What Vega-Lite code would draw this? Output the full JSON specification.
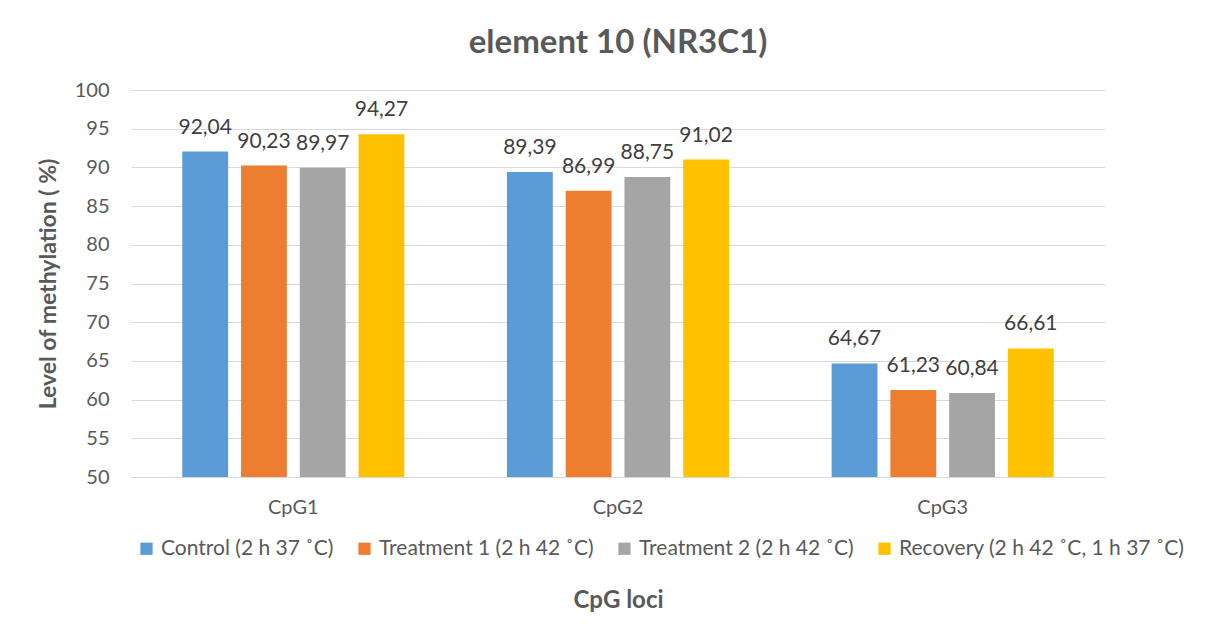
{
  "$schema": "https://vega.github.io/schema/vega-lite/v6.json",
  "width": 974,
  "height": 387,
  "autosize": {"type": "none"},
  "padding": {"left": 131, "top": 90, "right": 108, "bottom": 156},
  "background": "white",
  "title": {
    "text": "element 10 (NR3C1)",
    "font": "Lato",
    "fontSize": 33,
    "fontWeight": "bold",
    "color": "#595959",
    "anchor": "middle",
    "offset": 20
  },
  "config": {
    "font": "Lato",
    "view": {"stroke": null},
    "locale": {
      "number": {"decimal": ",", "thousands": ".", "grouping": [3], "currency": ["", " €"]}
    }
  },
  "data": {
    "values": [
      {"locus": "CpG1", "group": "Control (2 h 37 ˚C)", "value": 92.04},
      {"locus": "CpG1", "group": "Treatment 1 (2 h 42 ˚C)", "value": 90.23},
      {"locus": "CpG1", "group": "Treatment 2 (2 h 42 ˚C)", "value": 89.97},
      {"locus": "CpG1", "group": "Recovery (2 h 42 ˚C, 1 h 37 ˚C)", "value": 94.27},
      {"locus": "CpG2", "group": "Control (2 h 37 ˚C)", "value": 89.39},
      {"locus": "CpG2", "group": "Treatment 1 (2 h 42 ˚C)", "value": 86.99},
      {"locus": "CpG2", "group": "Treatment 2 (2 h 42 ˚C)", "value": 88.75},
      {"locus": "CpG2", "group": "Recovery (2 h 42 ˚C, 1 h 37 ˚C)", "value": 91.02},
      {"locus": "CpG3", "group": "Control (2 h 37 ˚C)", "value": 64.67},
      {"locus": "CpG3", "group": "Treatment 1 (2 h 42 ˚C)", "value": 61.23},
      {"locus": "CpG3", "group": "Treatment 2 (2 h 42 ˚C)", "value": 60.84},
      {"locus": "CpG3", "group": "Recovery (2 h 42 ˚C, 1 h 37 ˚C)", "value": 66.61}
    ]
  },
  "encoding": {
    "x": {
      "field": "locus",
      "type": "nominal",
      "scale": {"paddingInner": 0.316, "paddingOuter": 0.158},
      "axis": {
        "title": "CpG loci",
        "titleFontSize": 24,
        "titleFontWeight": "bold",
        "titleColor": "#595959",
        "titlePadding": 71,
        "labelAngle": 0,
        "labelFontSize": 20,
        "labelColor": "#595959",
        "labelPadding": 20,
        "ticks": false,
        "domainColor": "#d9d9d9",
        "domainWidth": 1
      }
    },
    "xOffset": {
      "field": "group",
      "type": "nominal",
      "sort": ["Control (2 h 37 ˚C)", "Treatment 1 (2 h 42 ˚C)", "Treatment 2 (2 h 42 ˚C)", "Recovery (2 h 42 ˚C, 1 h 37 ˚C)"],
      "scale": {"paddingInner": 0.22, "paddingOuter": 0}
    },
    "y": {
      "field": "value",
      "type": "quantitative",
      "scale": {"domain": [50, 100], "zero": false},
      "axis": {
        "title": "Level of methylation ( %)",
        "titleFontSize": 23,
        "titleFontWeight": "bold",
        "titleColor": "#595959",
        "titlePadding": 14,
        "values": [50, 55, 60, 65, 70, 75, 80, 85, 90, 95, 100],
        "labelFontSize": 20,
        "labelColor": "#595959",
        "labelPadding": 22,
        "ticks": false,
        "domain": false,
        "gridColor": "#d9d9d9",
        "gridWidth": 1
      }
    }
  },
  "layer": [
    {
      "mark": {"type": "bar", "clip": true},
      "encoding": {
        "color": {
          "field": "group",
          "type": "nominal",
          "sort": ["Control (2 h 37 ˚C)", "Treatment 1 (2 h 42 ˚C)", "Treatment 2 (2 h 42 ˚C)", "Recovery (2 h 42 ˚C, 1 h 37 ˚C)"],
          "scale": {
            "domain": ["Control (2 h 37 ˚C)", "Treatment 1 (2 h 42 ˚C)", "Treatment 2 (2 h 42 ˚C)", "Recovery (2 h 42 ˚C, 1 h 37 ˚C)"],
            "range": ["#5B9BD5", "#ED7D31", "#A5A5A5", "#FFC000"]
          },
          "legend": {
            "title": null,
            "orient": "none",
            "direction": "horizontal",
            "legendX": 5,
            "legendY": 448,
            "symbolType": "square",
            "symbolSize": 150,
            "symbolStrokeWidth": 0,
            "labelFontSize": 21,
            "labelColor": "#595959",
            "labelLimit": 500,
            "labelOffset": 4,
            "columnPadding": 20
          }
        }
      }
    },
    {
      "mark": {"type": "text", "dy": -24, "fontSize": 21, "color": "#404040"},
      "encoding": {
        "text": {"field": "value", "type": "quantitative", "format": ".2f"}
      }
    }
  ]
}
